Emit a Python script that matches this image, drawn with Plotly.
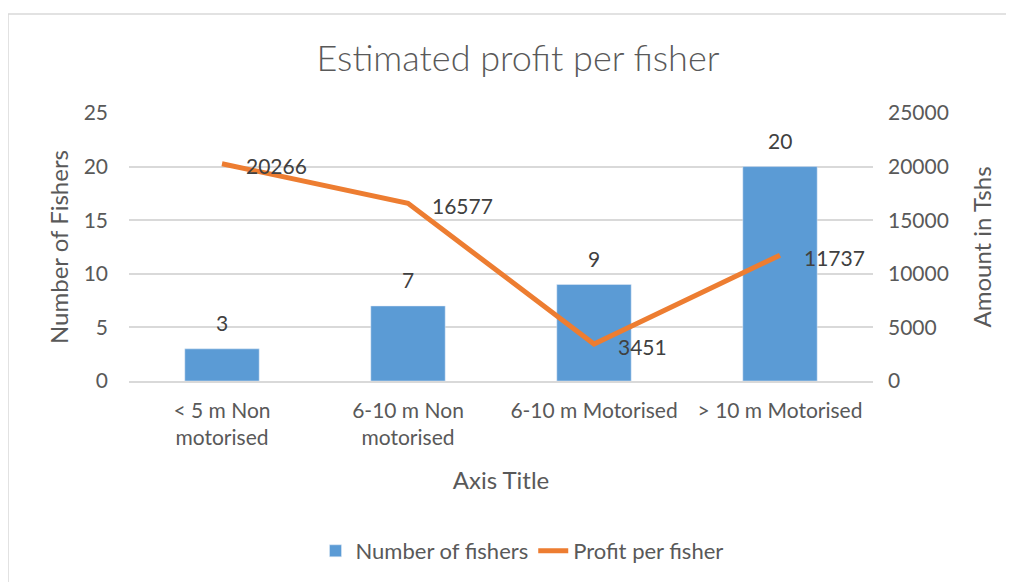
import plotly.graph_objects as go

# datos
categorias = ["< 5 m Non<br>motorised", "6-10 m Non<br>motorised", "6-10 m Motorised", "> 10 m Motorised"]
num_pescadores = [3, 7, 9, 20]
beneficio = [20266, 16577, 3451, 11737]

azul = "#5B9BD5"
naranja = "#ED7D31"
gris = "#595959"
fuente = "Lato, Noto Sans, sans-serif"

# la pagina tiene 8px de margen en el body
L, T = 121, 105
W, H = 744, 268

fig = go.Figure()

fig.add_trace(go.Bar(
    x=categorias, y=num_pescadores, name="Number of fishers",
    marker_color=azul,
))

fig.add_trace(go.Scatter(
    x=categorias, y=beneficio, name="Profit per fisher", yaxis="y2",
    mode="lines", line=dict(color=naranja, width=5),
))

# etiquetas de las barras
for c, v in zip(categorias, num_pescadores):
    fig.add_annotation(x=c, y=v, text=str(v), showarrow=False, yanchor="middle",
                       yshift=26, font=dict(size=21, color="#404040"))

# etiquetas de la linea
for c, v in zip(categorias, beneficio):
    fig.add_annotation(x=c, y=v, yref="y2", text=str(v), showarrow=False,
                       xanchor="left", yanchor="middle", xshift=22, yshift=-2,
                       font=dict(size=21, color="#404040"))

# marco del grafico
fig.add_shape(type="rect", xref="paper", yref="paper",
              x0=(0 - L) / W, x1=1.4, y0=-1.0, y1=(H + T - 6) / H,
              line=dict(color="#D9D9D9", width=1.5), layer="below")

fig.update_layout(
    width=1014, height=582,
    margin=dict(l=L, r=1014 - L - W, t=T, b=582 - T - H),
    paper_bgcolor="white", plot_bgcolor="white",
    font=dict(family=fuente, color=gris, size=21),
    title=dict(text="Estimated profit per fisher", x=(518 - 8) / 1014, xanchor="center",
               y=1 - 50 / 582, yanchor="middle",
               font=dict(size=36, color=gris, weight=300)),
    bargap=0.6,
    showlegend=True,
    legend=dict(orientation="h", x=(522 - 8 - L) / W, xanchor="center",
                y=(T + H - 543) / H, yanchor="middle",
                font=dict(size=22, color=gris)),
    xaxis=dict(
        showgrid=False, showline=True, linecolor="#D9D9D9", linewidth=1.5,
        ticks="", tickfont=dict(size=21, color=gris), ticklabelstandoff=10,
        title=dict(text="Axis Title", font=dict(size=24, color=gris), standoff=24),
    ),
    yaxis=dict(
        range=[0, 25], dtick=5, showgrid=True, gridcolor="#D9D9D9", gridwidth=1.5,
        zeroline=False, ticks="", ticklabelstandoff=20,
        tickfont=dict(size=21, color=gris),
        title=dict(text="Number of Fishers", font=dict(size=24, color=gris), standoff=8),
    ),
    yaxis2=dict(
        range=[0, 25000], dtick=5000, tickformat="d", overlaying="y", side="right",
        showgrid=False, zeroline=False, ticks="", ticklabelstandoff=14,
        tickfont=dict(size=21, color=gris),
        title=dict(text="Amount in Tshs", font=dict(size=24, color=gris), standoff=26),
    ),
)

fig.write_html("out.html")
